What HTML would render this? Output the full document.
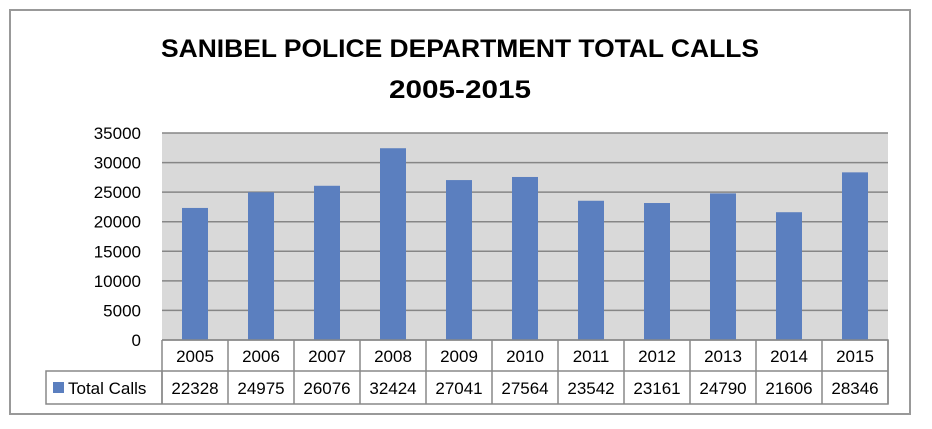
<!DOCTYPE html>
<html><head><meta charset="utf-8"><style>
html,body{margin:0;padding:0;background:#fff;}
svg{display:block;font-family:"Liberation Sans",sans-serif;}
</style></head><body>
<svg id="chart" width="932" height="429" viewBox="0 0 932 429">
<rect x="10" y="10" width="900" height="404" fill="#fff" stroke="#999" stroke-width="2"/>
<text x="460" y="57" text-anchor="middle" font-weight="bold" font-size="25" textLength="598" lengthAdjust="spacingAndGlyphs">SANIBEL POLICE DEPARTMENT TOTAL CALLS</text>
<text x="460" y="98" text-anchor="middle" font-weight="bold" font-size="25" textLength="142" lengthAdjust="spacingAndGlyphs">2005-2015</text>
<g id="plot"></g>
</svg>
<script>
const categories=["2005","2006","2007","2008","2009","2010","2011","2012","2013","2014","2015"];
const values=[22328,24975,26076,32424,27041,27564,23542,23161,24790,21606,28346];
const yTicks=[0,5000,10000,15000,20000,25000,30000,35000];
const seriesName="Total Calls";
const X0=162,X1=888,Y0=340,Y1=133,YMAX=35000;
const ns="http://www.w3.org/2000/svg";
const g=document.getElementById('plot');
function y(v){return Y0-(v/YMAX)*(Y0-Y1);}
const cw=(X1-X0)/categories.length;
function x(i){return X0+i*cw;}
function mk(t,a,txt){const e=document.createElementNS(ns,t);for(const k in a)e.setAttribute(k,a[k]);if(txt!==undefined)e.textContent=txt;g.appendChild(e);return e;}
let e=mk('rect',{x:X0,y:Y1,width:X1-X0,height:Y0-Y1,fill:'#d9d9d9'});


yTicks.forEach(t=>{
 let l=mk('line',{x1:X0,x2:X1,y1:y(t),y2:y(t),stroke:'#868686','stroke-width':1.5});
 
 
 let tx=mk('text',{x:141,y:y(t)+6,'text-anchor':'end','font-size':17},String(t));
 
 
});
values.forEach((v,i)=>{
 let b=mk('rect',{x:x(i)+cw/2-13,y:y(v),width:26,height:Y0-y(v),fill:'#5b7fbf'});
 
 
});
// data table
const R1=371,R2=404;
let tb=mk('path',{d:`M${X0} ${Y0}H${X1}V${R2}H46V${R1}H${X1}M${X0} ${R1}V${R2}M46 ${R1}V${R2}`,fill:'none',stroke:'#888','stroke-width':1.5});


for(let i=0;i<=categories.length;i++){
 let l=mk('line',{x1:x(i),x2:x(i),y1:Y0,y2:R2,stroke:'#888','stroke-width':1.5});
 
 
}
categories.forEach((c,i)=>{
 let t=mk('text',{x:x(i)+cw/2,y:362,'text-anchor':'middle','font-size':17},c);
 
 
 let t2=mk('text',{x:x(i)+cw/2,y:394,'text-anchor':'middle','font-size':17},String(values[i]));
 
 
});
let key=mk('rect',{x:53,y:382,width:11,height:11,fill:'#5b7fbf'});


let lt=mk('text',{x:68,y:394,'font-size':17},seriesName);


</script>
</body></html>
